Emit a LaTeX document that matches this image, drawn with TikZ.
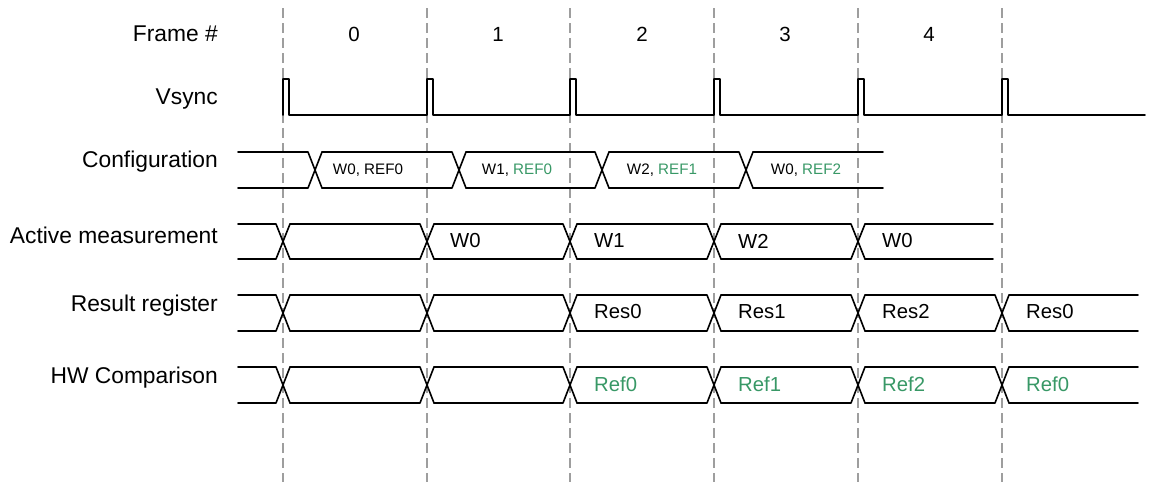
\documentclass[tikz,border=0pt]{standalone}
\usepackage{fontspec}
\setmainfont{Liberation Sans}
\definecolor{refgreen}{RGB}{56,152,102}
\begin{document}
\begin{tikzpicture}[x=1pt,y=-1pt,
  gridline/.style={draw=black!38, line width=1.4pt, dash pattern=on 10pt off 5pt},
  sig/.style={draw=black, line width=1.6pt, line cap=round, line join=round},
  rowlabel/.style={anchor=east, inner sep=0pt, font=\fontsize{22.8}{26}\selectfont},
  framenum/.style={inner sep=0pt, font=\fontsize{20.5}{23}\selectfont},
  busval/.style={anchor=west, inner sep=0pt, font=\fontsize{20.3}{23}\selectfont},
  cfgval/.style={inner sep=0pt, font=\fontsize{15.2}{18}\selectfont},
  green/.style={text=refgreen}]
\useasboundingbox (0,0) rectangle (1154,482);

% frame boundaries
\foreach \x in {283,427,570,714,858,1002}
  \draw[gridline] (\x,8) -- (\x,482);

% row labels
\node[rowlabel] (lframe) at (218,34) {Frame \#};
\node[rowlabel] (lvsync) at (218,99) {Vsync};
\node[rowlabel] (lcfg)   at (218,162) {Configuration};
\node[rowlabel] (lact)   at (218,235) {Active measurement};
\node[rowlabel] (lres)   at (218,306) {Result register};
\node[rowlabel] (lhw)    at (218,378) {HW Comparison};

% frame numbers
\node[framenum] (f0) at (354,34) {0};
\node[framenum] (f1) at (498,34) {1};
\node[framenum] (f2) at (642,34) {2};
\node[framenum] (f3) at (785,34) {3};
\node[framenum] (f4) at (929,34) {4};

% vsync pulses
\draw[sig] (283,115) -- (283,79) -- (289,79) -- (289,115)
  -- (427,115) -- (427,79) -- (433,79) -- (433,115)
  -- (570,115) -- (570,79) -- (576,79) -- (576,115)
  -- (714,115) -- (714,79) -- (720,79) -- (720,115)
  -- (858,115) -- (858,79) -- (864,79) -- (864,115)
  -- (1002,115) -- (1002,79) -- (1008,79) -- (1008,115) -- (1145,115);

% bus row: #1 top, #2 bottom, #3 start, #4 crossings, #5 last crossing, #6 end
\newcommand\busrow[6]{%
  \foreach \c [remember=\c as \p (initially #3-7)] in {#4} {
    \draw[sig] (\p+7,#1) -- (\c-7,#1) (\p+7,#2) -- (\c-7,#2)
               (\c-7,#1) -- (\c+7,#2) (\c-7,#2) -- (\c+7,#1);
  }
  \draw[sig] (#5+7,#1) -- (#6,#1) (#5+7,#2) -- (#6,#2);
}

% configuration
\busrow{152}{188}{238}{315,459,602,746}{746}{883}
\node[cfgval] (c0) at (368,170) {W0, REF0};
\node[cfgval] (c1) at (517,170) {W1, \textcolor{refgreen}{REF0}};
\node[cfgval] (c2) at (662,170) {W2, \textcolor{refgreen}{REF1}};
\node[cfgval] (c3) at (806,170) {W0, \textcolor{refgreen}{REF2}};

% active measurement
\busrow{224}{259}{238}{283,427,570,714,858}{858}{993}
\node[busval] (a1) at (450,241) {W0};
\node[busval] (a2) at (594,241) {W1};
\node[busval] (a3) at (738,241) {W2};
\node[busval] (a4) at (882,241) {W0};

% result register
\busrow{295}{331}{238}{283,427,570,714,858,1002}{1002}{1138}
\node[busval] (r2) at (594,312) {Res0};
\node[busval] (r3) at (738,312) {Res1};
\node[busval] (r4) at (882,312) {Res2};
\node[busval] (r5) at (1026,312) {Res0};

% hardware comparison
\busrow{367}{403}{238}{283,427,570,714,858,1002}{1002}{1138}
\node[busval,green] (h2) at (594,384) {Ref0};
\node[busval,green] (h3) at (738,384) {Ref1};
\node[busval,green] (h4) at (882,384) {Ref2};
\node[busval,green] (h5) at (1026,384) {Ref0};
\end{tikzpicture}
\end{document}
